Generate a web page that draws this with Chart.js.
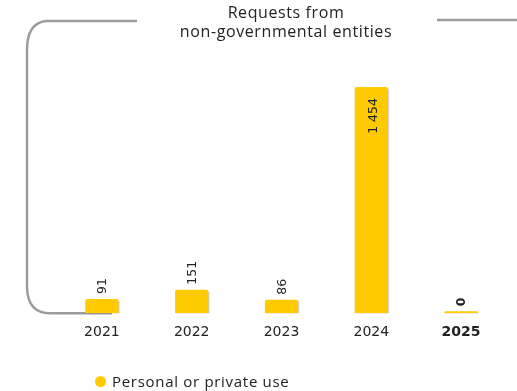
<!DOCTYPE html>
<html>
<head>
<meta charset="utf-8">
<script src="https://cdn.jsdelivr.net/npm/chart.js@4.4.1/dist/chart.umd.min.js"></script>
<style>
  html, body { margin: 0; padding: 0; background: #fff; }
  .wrap { position: relative; width: 517px; height: 391px; }
  .legend {
    position: absolute; left: 95px; top: 371px;
    font: 15px "Open Sans", sans-serif; color: #222; letter-spacing: 0.7px;
    display: flex; align-items: center; white-space: nowrap;
  }
  .legend .dot {
    display: inline-block; width: 11px; height: 11px; border-radius: 50%;
    background: #FFCA00; margin-right: 6px;
  }
</style>
</head>
<body>
<div class="wrap">
  <canvas id="requestsChart" width="517" height="391"></canvas>
  <div class="legend"><span class="dot"></span><span id="legendLabel"></span></div>
</div>
<script>
  var years = ['2021', '2022', '2023', '2024', '2025'];
  var personalUse = [91, 151, 86, 1454, 0];
  var seriesLabel = 'Personal or private use';
  var titleLines = ['Requests from', 'non-governmental entities'];
  var barColor = '#FFCA00';
  var lineGray = '#9c9c9c';

  document.getElementById('legendLabel').textContent = seriesLabel;

  function fmt(v) {
    return String(v).replace(/\B(?=(\d{3})+(?!\d))/g, ' ');
  }

  // title + grey bracket line behind the chart
  var bracketPlugin = {
    id: 'bracket',
    beforeDatasetsDraw: function(chart) {
      var ctx = chart.ctx;
      var bottom = chart.chartArea.bottom;
      ctx.save();
      ctx.fillStyle = '#222';
      ctx.font = '16px "Open Sans"';
      ctx.letterSpacing = '0.6px';
      ctx.textAlign = 'center';
      ctx.textBaseline = 'middle';
      titleLines.forEach(function(t, i) {
        ctx.fillText(t, 286, 13 + i * 19);
      });
      ctx.restore();

      ctx.save();
      ctx.strokeStyle = lineGray;
      ctx.lineWidth = 2.5;
      ctx.beginPath();
      ctx.moveTo(137, 21);
      ctx.lineTo(46, 21);
      ctx.quadraticCurveTo(27, 23, 27, 50);
      ctx.lineTo(27, 288);
      ctx.quadraticCurveTo(28, bottom, 50, bottom);
      ctx.lineTo(112, bottom);
      ctx.stroke();
      ctx.beginPath();
      ctx.moveTo(437, 20);
      ctx.lineTo(517, 20);
      ctx.stroke();
      ctx.restore();

      // soft shadow for bars
      ctx.save();
      ctx.shadowColor = 'rgba(0,0,0,0.22)';
      ctx.shadowOffsetX = 1;
      ctx.shadowOffsetY = 1;
      ctx.shadowBlur = 1;
    },
    afterDatasetsDraw: function(chart) {
      var ctx = chart.ctx;
      ctx.restore();
      var meta = chart.getDatasetMeta(0);
      meta.data.forEach(function(bar, i) {
        var v = chart.data.datasets[0].data[i];
        var h = bar.base - bar.y;
        ctx.save();
        ctx.fillStyle = '#222';
        ctx.textBaseline = 'middle';
        if (h > 60) {
          ctx.font = '12.5px "DejaVu Sans"';
          ctx.translate(bar.x + 2, bar.y + 11);
          ctx.rotate(-Math.PI / 2);
          ctx.textAlign = 'right';
        } else {
          ctx.font = (v === 0 ? 'bold ' : '') + '12.5px "DejaVu Sans"';
          ctx.translate(bar.x + 1, bar.y - 5);
          ctx.rotate(-Math.PI / 2);
          ctx.textAlign = 'left';
        }
        ctx.fillText(fmt(v), 0, 0);
        ctx.restore();
      });
    }
  };

  new Chart(document.getElementById('requestsChart'), {
    type: 'bar',
    data: {
      labels: years,
      datasets: [{
        label: seriesLabel,
        data: personalUse,
        backgroundColor: barColor,
        borderRadius: { topLeft: 2, topRight: 2 },
        borderSkipped: 'bottom',
        minBarLength: 2,
        barPercentage: 0.37,
        categoryPercentage: 1
      }]
    },
    options: {
      responsive: false,
      animation: false,
      layout: { padding: { left: 57, right: 11, top: 60, bottom: 47 } },
      plugins: {
        legend: { display: false },
        tooltip: { enabled: false },
        title: { display: false }
      },
      scales: {
        x: {
          grid: { display: false },
          border: { display: false },
          ticks: {
            color: '#222',
            padding: 3,
            font: function(c) {
              return { family: '"DejaVu Sans"', size: 14, weight: c.index === 4 ? 'bold' : 'normal' };
            }
          }
        },
        y: { display: false, min: 0, max: 1628 }
      }
    },
    plugins: [bracketPlugin]
  });
</script>
</body>
</html>
